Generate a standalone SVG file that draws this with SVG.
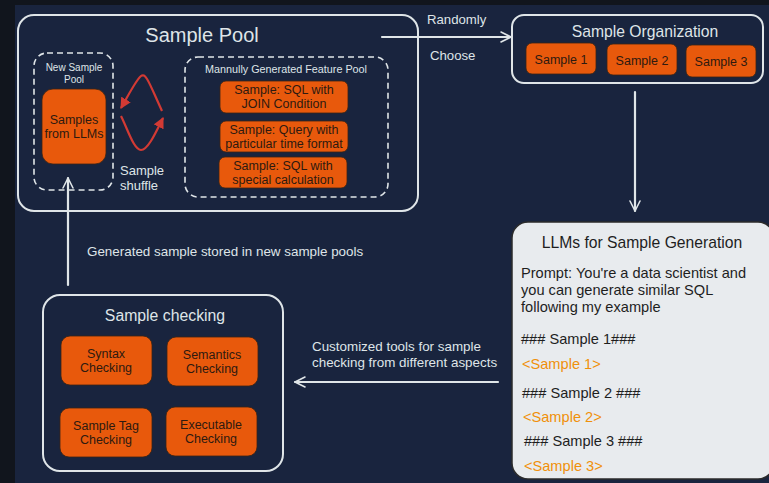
<svg xmlns="http://www.w3.org/2000/svg" width="769" height="483" viewBox="0 0 769 483">
  <style>
    text { font-family: "Liberation Sans", Arial, sans-serif; }
    .frame { fill: none; stroke: #dfe5e8; stroke-width: 2; }
    .dash { fill: none; stroke: #dfe5e8; stroke-width: 1.6; stroke-dasharray: 6 4; }
    .chip { fill: #e8590c; stroke: #3a2414; stroke-width: 0.8; }
    .chip-t { fill: #2e1a10; font-size: 12.5px; text-anchor: middle; }
    .light { fill: #dfe5e8; }
    .title { fill: #dfe5e8; text-anchor: middle; }
    .conn { fill: none; stroke: #dfe5e8; stroke-width: 2.2; stroke-linecap: round; stroke-linejoin: round; }
    .shuffle { fill: none; stroke: #d23a34; stroke-width: 2.2; }
    .dark { fill: #1e1e1e; font-size: 14.6px; }
    .orange { fill: #f0900a; font-size: 14.6px; }
  </style>
  <defs>
    <marker id="chev" viewBox="0 0 12 12" refX="11" refY="6" markerWidth="12" markerHeight="12" markerUnits="userSpaceOnUse" orient="auto">
      <path d="M1 1 L11 6 L1 11" fill="none" stroke="#dfe5e8" stroke-width="1.6" stroke-linecap="round" stroke-linejoin="round"/>
    </marker>
    <marker id="redhead" viewBox="0 0 10 10" refX="9" refY="5" markerWidth="11" markerHeight="11" markerUnits="userSpaceOnUse" orient="auto">
      <path d="M0 0 L10 5 L0 10 Z" fill="#d23a34"/>
    </marker>
  </defs>

  <!-- page background -->
  <rect x="0" y="0" width="769" height="483" fill="#11151d"/>
  <rect x="15" y="5" width="754" height="478" fill="#19243e"/>

  <!-- Sample Pool -->
  <g id="sample-pool">
    <rect class="frame" x="18" y="15" width="400" height="196" rx="16"/>
    <text class="title" x="202" y="42" font-size="20">Sample Pool</text>
  </g>

  <g id="new-sample-pool">
    <rect class="dash" x="34" y="53" width="79" height="137" rx="13"/>
    <text class="title" x="74" y="71" font-size="10">New Sample</text>
    <text class="title" x="74" y="83" font-size="10">Pool</text>
    <rect class="chip" x="42" y="89" width="64" height="75" rx="11"/>
    <text class="chip-t" x="74" y="124" font-size="12.5">Samples</text>
    <text class="chip-t" x="74" y="138" font-size="12.5">from LLMs</text>
  </g>

  <g id="sample-shuffle">
    <path class="shuffle" d="M162 111 C 150 85, 146 72, 141 76 C 136 80, 128 96, 121 108" marker-end="url(#redhead)"/>
    <path class="shuffle" d="M121 116 C 128 130, 134 150, 141 150 C 148 150, 156 132, 163 118" marker-end="url(#redhead)"/>
    <text class="light" x="120" y="175" font-size="13">Sample</text>
    <text class="light" x="120" y="190" font-size="13">shuffle</text>
  </g>

  <g id="feature-pool">
    <rect class="dash" x="185" y="57" width="203" height="140" rx="13"/>
    <text class="title" x="286" y="73" font-size="10.8">Mannully Generated Feature Pool</text>
    <rect class="chip" x="220" y="81" width="128" height="32" rx="6"/>
    <text class="chip-t" x="284" y="94">Sample: SQL with</text>
    <text class="chip-t" x="284" y="108">JOIN Condition</text>
    <rect class="chip" x="220" y="121" width="128" height="31" rx="6"/>
    <text class="chip-t" x="284" y="134">Sample: Query with</text>
    <text class="chip-t" x="284" y="148">particular time format</text>
    <rect class="chip" x="219" y="157" width="128" height="31" rx="6"/>
    <text class="chip-t" x="283" y="170">Sample: SQL with</text>
    <text class="chip-t" x="283" y="184">special calculation</text>
  </g>

  <!-- Sample Organization -->
  <g id="sample-organization">
    <rect class="frame" x="512" y="15" width="251" height="68" rx="12"/>
    <text class="title" x="645" y="37" font-size="15.7">Sample Organization</text>
    <rect class="chip" x="526" y="43" width="70" height="31" rx="6"/>
    <text class="chip-t" x="561" y="64" font-size="12">Sample 1</text>
    <rect class="chip" x="607" y="44" width="70" height="31" rx="6"/>
    <text class="chip-t" x="642" y="65" font-size="12">Sample 2</text>
    <rect class="chip" x="686" y="45" width="70" height="32" rx="6"/>
    <text class="chip-t" x="721" y="66" font-size="12">Sample 3</text>
  </g>

  <!-- LLMs for Sample Generation -->
  <g id="llm-generation">
    <rect x="512" y="222" width="262" height="257" rx="16" fill="#e8ebee" stroke="#2b2b2b" stroke-width="1.5"/>
    <text x="642" y="248" font-size="15.7" fill="#1e1e1e" text-anchor="middle">LLMs for Sample Generation</text>
    <text class="dark" x="521" y="278">Prompt: You're a data scientist and</text>
    <text class="dark" x="521" y="295">you can generate similar SQL</text>
    <text class="dark" x="521" y="312">following my example</text>
    <text class="dark" x="521" y="344">### Sample 1###</text>
    <text class="orange" x="522" y="369">&lt;Sample 1&gt;</text>
    <text class="dark" x="522" y="398">### Sample 2 ###</text>
    <text class="orange" x="523" y="422">&lt;Sample 2&gt;</text>
    <text class="dark" x="524" y="446">### Sample 3 ###</text>
    <text class="orange" x="524" y="471">&lt;Sample 3&gt;</text>
  </g>

  <!-- Sample checking -->
  <g id="sample-checking">
    <rect class="frame" x="43" y="295" width="240" height="176" rx="17"/>
    <text class="title" x="165" y="321" font-size="15.8">Sample checking</text>
    <rect class="chip" x="61" y="336" width="91" height="49" rx="9"/>
    <text class="chip-t" x="106" y="358">Syntax</text>
    <text class="chip-t" x="106" y="372">Checking</text>
    <rect class="chip" x="167" y="337" width="91" height="49" rx="9"/>
    <text class="chip-t" x="212" y="359">Semantics</text>
    <text class="chip-t" x="212" y="373">Checking</text>
    <rect class="chip" x="60" y="408" width="92" height="49" rx="9"/>
    <text class="chip-t" x="106" y="430">Sample Tag</text>
    <text class="chip-t" x="106" y="444">Checking</text>
    <rect class="chip" x="166" y="407" width="91" height="49" rx="9"/>
    <text class="chip-t" x="211" y="429">Executable</text>
    <text class="chip-t" x="211" y="443">Checking</text>
  </g>

  <!-- connectors -->
  <g id="connectors">
    <path class="conn" d="M382 37 L511 37" marker-end="url(#chev)"/>
    <text class="light" x="427" y="24" font-size="13.2">Randomly</text>
    <text class="light" x="430" y="60" font-size="13.2">Choose</text>

    <path class="conn" d="M635 92 L635 211" marker-end="url(#chev)"/>

    <path class="conn" d="M498 382 L295 382" marker-end="url(#chev)"/>
    <text class="light" x="312" y="351" font-size="13.4">Customized tools for sample</text>
    <text class="light" x="312" y="367" font-size="13.4">checking from different aspects</text>

    <path class="conn" d="M68 285 L68 178" marker-end="url(#chev)"/>
    <text class="light" x="87" y="256" font-size="13.4">Generated sample stored in new sample pools</text>
  </g>
</svg>
